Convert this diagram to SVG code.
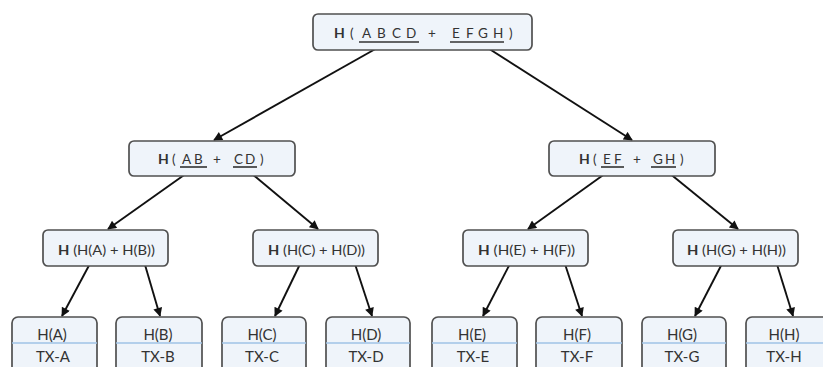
<svg xmlns="http://www.w3.org/2000/svg" width="823" height="367" viewBox="0 0 823 367">
<defs>
<style>
.box{fill:#eff4fa;stroke:#505050;stroke-width:1.7}
.t{font-family:Lato,"Open Sans",sans-serif;fill:#333333;text-anchor:middle;font-size:14px}
.lf{font-size:15px}
.s{text-anchor:start;font-size:13.5px}
.b{font-weight:bold;font-size:14px}
.ul{stroke:#333333;stroke-width:1.6}
.div{stroke:#9fc3e6;stroke-width:1.6}
.c line{stroke:#111;stroke-width:1.9;marker-end:url(#ah)}
</style>
<marker id="ah" viewBox="0 0 10 10" refX="9" refY="5" markerWidth="11" markerHeight="9" markerUnits="userSpaceOnUse" orient="auto">
<path d="M0,0 L10,5 L0,10 z" fill="#111"/>
</marker>
</defs>
<rect width="823" height="367" fill="#ffffff"/>
<g id="connectors" class="c">
<line x1="386" y1="43" x2="214" y2="140"/>
<line x1="480" y1="43" x2="632" y2="140"/>
<line x1="194" y1="168" x2="108" y2="229"/>
<line x1="245" y1="168" x2="318" y2="229"/>
<line x1="613" y1="168" x2="528" y2="229"/>
<line x1="663" y1="168" x2="738" y2="229"/>
<line x1="93" y1="258" x2="62" y2="316"/>
<line x1="143" y1="258" x2="160" y2="316"/>
<line x1="303" y1="258" x2="275" y2="316"/>
<line x1="353" y1="258" x2="372" y2="316"/>
<line x1="513" y1="258" x2="483" y2="316"/>
<line x1="563" y1="258" x2="582" y2="316"/>
<line x1="725" y1="258" x2="695" y2="316"/>
<line x1="775" y1="258" x2="793" y2="316"/>
</g>
<g id="root">
<rect class="box" x="313" y="14" width="219" height="36" rx="5"/>
<text class="t s" y="38"><tspan class="b" x="334">H</tspan><tspan x="350">(</tspan><tspan x="362">A</tspan><tspan x="377">B</tspan><tspan x="392">C</tspan><tspan x="406">D</tspan><tspan x="428">+</tspan><tspan x="452">E</tspan><tspan x="466">F</tspan><tspan x="478">G</tspan><tspan x="493">H</tspan><tspan x="509">)</tspan></text>
<line class="ul" x1="359" y1="42" x2="419" y2="42"/>
<line class="ul" x1="450" y1="42" x2="504" y2="42"/>
</g>
<g id="hABCD">
<rect class="box" x="129" y="141" width="166" height="35" rx="5"/>
<text class="t s" y="164"><tspan class="b" x="158">H</tspan><tspan x="172">(</tspan><tspan x="182">A</tspan><tspan x="194">B</tspan><tspan x="213">+</tspan><tspan x="234">C</tspan><tspan x="245">D</tspan><tspan x="260">)</tspan></text>
<line class="ul" x1="180" y1="167" x2="207" y2="167"/>
<line class="ul" x1="233" y1="167" x2="257" y2="167"/>
</g>
<g id="hEFGH">
<rect class="box" x="549" y="141" width="166" height="35" rx="5"/>
<text class="t s" y="164"><tspan class="b" x="579">H</tspan><tspan x="593">(</tspan><tspan x="603">E</tspan><tspan x="614">F</tspan><tspan x="633">+</tspan><tspan x="653">G</tspan><tspan x="665">H</tspan><tspan x="680">)</tspan></text>
<line class="ul" x1="601" y1="167" x2="624" y2="167"/>
<line class="ul" x1="651" y1="167" x2="676" y2="167"/>
</g>
<g id="hAB">
<rect class="box" x="43" y="230" width="125" height="36" rx="5"/>
<text class="t" x="106.5" y="255" textLength="97" lengthAdjust="spacingAndGlyphs"><tspan font-weight="bold">H</tspan> (H(A) + H(B))</text>
</g>
<g id="hCD">
<rect class="box" x="253" y="230" width="125" height="36" rx="5"/>
<text class="t" x="316.5" y="255" textLength="97" lengthAdjust="spacingAndGlyphs"><tspan font-weight="bold">H</tspan> (H(C) + H(D))</text>
</g>
<g id="hEF">
<rect class="box" x="463" y="230" width="125" height="36" rx="5"/>
<text class="t" x="526.5" y="255" textLength="97" lengthAdjust="spacingAndGlyphs"><tspan font-weight="bold">H</tspan> (H(E) + H(F))</text>
</g>
<g id="hGH">
<rect class="box" x="673" y="230" width="125" height="36" rx="5"/>
<text class="t" x="736.5" y="255" textLength="99" lengthAdjust="spacingAndGlyphs"><tspan font-weight="bold">H</tspan> (H(G) + H(H))</text>
</g>
<g id="leafA"><rect class="box" x="12" y="317" width="85" height="60" rx="6"/><line class="div" x1="12" y1="343" x2="97" y2="343"/><text class="t lf" x="52" y="340">H(A)</text><text class="t lf" x="53" y="362">TX-A</text></g>
<g id="leafB"><rect class="box" x="116" y="317" width="86" height="60" rx="6"/><line class="div" x1="116" y1="343" x2="202" y2="343"/><text class="t lf" x="158" y="340">H(B)</text><text class="t lf" x="158" y="362">TX-B</text></g>
<g id="leafC"><rect class="box" x="222" y="317" width="84" height="60" rx="6"/><line class="div" x1="222" y1="343" x2="306" y2="343"/><text class="t lf" x="262" y="340">H(C)</text><text class="t lf" x="262" y="362">TX-C</text></g>
<g id="leafD"><rect class="box" x="326" y="317" width="84" height="60" rx="6"/><line class="div" x1="326" y1="343" x2="410" y2="343"/><text class="t lf" x="366" y="340">H(D)</text><text class="t lf" x="366" y="362">TX-D</text></g>
<g id="leafE"><rect class="box" x="432" y="317" width="85" height="60" rx="6"/><line class="div" x1="432" y1="343" x2="517" y2="343"/><text class="t lf" x="472" y="340">H(E)</text><text class="t lf" x="473" y="362">TX-E</text></g>
<g id="leafF"><rect class="box" x="536" y="317" width="86" height="60" rx="6"/><line class="div" x1="536" y1="343" x2="622" y2="343"/><text class="t lf" x="577" y="340">H(F)</text><text class="t lf" x="577" y="362">TX-F</text></g>
<g id="leafG"><rect class="box" x="642" y="317" width="84" height="60" rx="6"/><line class="div" x1="642" y1="343" x2="726" y2="343"/><text class="t lf" x="682" y="340">H(G)</text><text class="t lf" x="682" y="362">TX-G</text></g>
<g id="leafH"><rect class="box" x="746" y="317" width="84" height="60" rx="6"/><line class="div" x1="746" y1="343" x2="830" y2="343"/><text class="t lf" x="784" y="340">H(H)</text><text class="t lf" x="784" y="362">TX-H</text></g>
</svg>
